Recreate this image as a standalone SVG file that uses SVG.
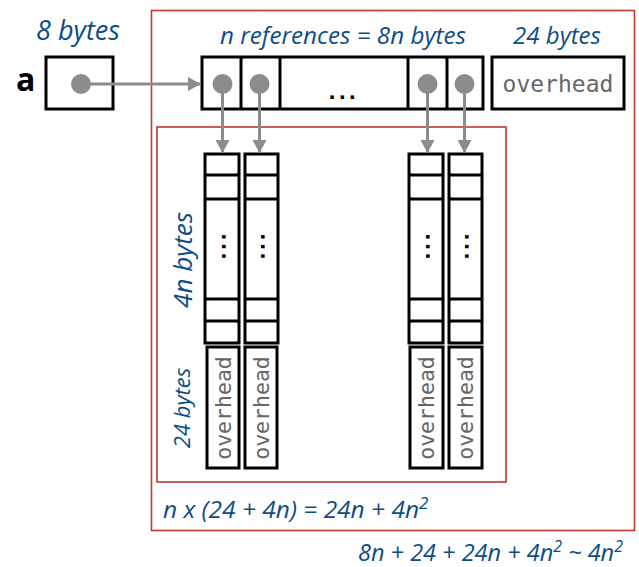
<svg xmlns="http://www.w3.org/2000/svg" width="639" height="567" viewBox="0 0 639 567">
  <style>
    .frame { fill: none; stroke: #c0392b; stroke-width: 1.6; }
    .cell { fill: #ffffff; stroke: #000000; stroke-width: 3; }
    .sep { stroke: #000000; stroke-width: 3; }
    .dot { fill: #8c8c8c; }
    .link { stroke: #8c8c8c; stroke-width: 3; fill: none; }
    .note { font-family: "Open Sans", "Liberation Sans", sans-serif; font-style: italic; fill: #0e4d86; }
    .mono { font-family: "DejaVu Sans Mono", "Liberation Mono", monospace; fill: #666666; }
    .ell { font-family: "Liberation Sans", sans-serif; font-size: 24px; fill: #000000; font-weight: bold; }
  </style>
  <defs>
    <marker id="head" markerUnits="userSpaceOnUse" markerWidth="14" markerHeight="14" viewBox="0 0 14 14" refX="13" refY="7" orient="auto">
      <path d="M0,0 L13,7 L0,14 Z" fill="#8c8c8c"/>
    </marker>
  </defs>
  <rect width="639" height="567" fill="#ffffff"/>

  <!-- enclosing frames -->
  <rect class="frame" x="151.5" y="10.5" width="483" height="520"/>
  <rect class="frame" x="157" y="127" width="349" height="355"/>

  <!-- size labels -->
  <text class="note" x="78" y="40" font-size="27" text-anchor="middle">8 bytes</text>
  <text class="note" x="343" y="44" font-size="24" text-anchor="middle" textLength="246" lengthAdjust="spacingAndGlyphs">n references = 8n bytes</text>
  <text class="note" x="557" y="44" font-size="24" text-anchor="middle">24 bytes</text>
  <text class="note" font-size="26" text-anchor="middle" transform="translate(192,260) rotate(-90)">4n bytes</text>
  <text class="note" font-size="22" text-anchor="middle" transform="translate(190,408) rotate(-90)">24 bytes</text>
  <text class="note" x="163" y="518" font-size="24.5">n x (24 + 4n) = 24n + 4n<tspan font-size="17" dy="-9">2</tspan></text>
  <text class="note" x="358" y="561" font-size="23.5">8n + 24 + 24n + 4n<tspan font-size="16" dy="-9">2</tspan><tspan dy="9"> ~ 4n</tspan><tspan font-size="16" dy="-9">2</tspan></text>

  <!-- variable a -->
  <g id="var-a">
    <text x="16" y="91" font-family="Open Sans, Liberation Sans, sans-serif" font-weight="bold" font-size="32" fill="#000000">a</text>
    <rect class="cell" x="46" y="57" width="67" height="52"/>
    <circle class="dot" cx="81" cy="84" r="10"/>
  </g>

  <!-- array of references -->
  <g id="ref-array">
    <rect class="cell" x="202" y="57" width="281" height="52"/>
    <line class="sep" x1="241" y1="57" x2="241" y2="109"/>
    <line class="sep" x1="280" y1="57" x2="280" y2="109"/>
    <line class="sep" x1="408" y1="57" x2="408" y2="109"/>
    <line class="sep" x1="447" y1="57" x2="447" y2="109"/>
    <text class="ell" x="344" y="99" text-anchor="middle" letter-spacing="3.5">...</text>
    <circle class="dot" cx="222.5" cy="84" r="10"/>
    <circle class="dot" cx="259.5" cy="84" r="10"/>
    <circle class="dot" cx="427.5" cy="84" r="10"/>
    <circle class="dot" cx="464.5" cy="84" r="10"/>
  </g>
  <g id="ref-overhead">
    <rect class="cell" x="492" y="57" width="132" height="52"/>
    <text class="mono" x="558" y="92" font-size="23" text-anchor="middle">overhead</text>
  </g>

  <!-- inner arrays -->
  <g id="row-1">
    <rect class="cell" x="205" y="154" width="34" height="189"/>
    <line class="sep" x1="205" y1="175" x2="239" y2="175"/>
    <line class="sep" x1="205" y1="199" x2="239" y2="199"/>
    <line class="sep" x1="205" y1="299" x2="239" y2="299"/>
    <line class="sep" x1="205" y1="321" x2="239" y2="321"/>
    <text class="ell" font-size="18" letter-spacing="3" text-anchor="middle" transform="translate(222,248) rotate(90)">...</text>
    <rect class="cell" x="207" y="347" width="32" height="121"/>
    <text class="mono" font-size="21.5" text-anchor="middle" transform="translate(230.5,408) rotate(-90)">overhead</text>
  </g>
  <g id="row-2">
    <rect class="cell" x="245" y="154" width="33" height="189"/>
    <line class="sep" x1="245" y1="175" x2="278" y2="175"/>
    <line class="sep" x1="245" y1="199" x2="278" y2="199"/>
    <line class="sep" x1="245" y1="299" x2="278" y2="299"/>
    <line class="sep" x1="245" y1="321" x2="278" y2="321"/>
    <text class="ell" font-size="18" letter-spacing="3" text-anchor="middle" transform="translate(261,248) rotate(90)">...</text>
    <rect class="cell" x="245" y="347" width="32" height="121"/>
    <text class="mono" font-size="21.5" text-anchor="middle" transform="translate(268.5,408) rotate(-90)">overhead</text>
  </g>
  <g id="row-n-1">
    <rect class="cell" x="409" y="154" width="34" height="189"/>
    <line class="sep" x1="409" y1="175" x2="443" y2="175"/>
    <line class="sep" x1="409" y1="199" x2="443" y2="199"/>
    <line class="sep" x1="409" y1="299" x2="443" y2="299"/>
    <line class="sep" x1="409" y1="321" x2="443" y2="321"/>
    <text class="ell" font-size="18" letter-spacing="3" text-anchor="middle" transform="translate(426,248) rotate(90)">...</text>
    <rect class="cell" x="410" y="347" width="33" height="121"/>
    <text class="mono" font-size="21.5" text-anchor="middle" transform="translate(434,408) rotate(-90)">overhead</text>
  </g>
  <g id="row-n">
    <rect class="cell" x="449" y="154" width="33" height="189"/>
    <line class="sep" x1="449" y1="175" x2="482" y2="175"/>
    <line class="sep" x1="449" y1="199" x2="482" y2="199"/>
    <line class="sep" x1="449" y1="299" x2="482" y2="299"/>
    <line class="sep" x1="449" y1="321" x2="482" y2="321"/>
    <text class="ell" font-size="18" letter-spacing="3" text-anchor="middle" transform="translate(465,248) rotate(90)">...</text>
    <rect class="cell" x="449" y="347" width="33" height="121"/>
    <text class="mono" font-size="21.5" text-anchor="middle" transform="translate(473,408) rotate(-90)">overhead</text>
  </g>

  <!-- pointers -->
  <g id="connectors">
    <line class="link" x1="81" y1="84" x2="201" y2="84" marker-end="url(#head)"/>
    <line class="link" x1="222.5" y1="84" x2="222.5" y2="153" marker-end="url(#head)"/>
    <line class="link" x1="259.5" y1="84" x2="259.5" y2="153" marker-end="url(#head)"/>
    <line class="link" x1="427.5" y1="84" x2="427.5" y2="153" marker-end="url(#head)"/>
    <line class="link" x1="464.5" y1="84" x2="464.5" y2="153" marker-end="url(#head)"/>
  </g>
</svg>
